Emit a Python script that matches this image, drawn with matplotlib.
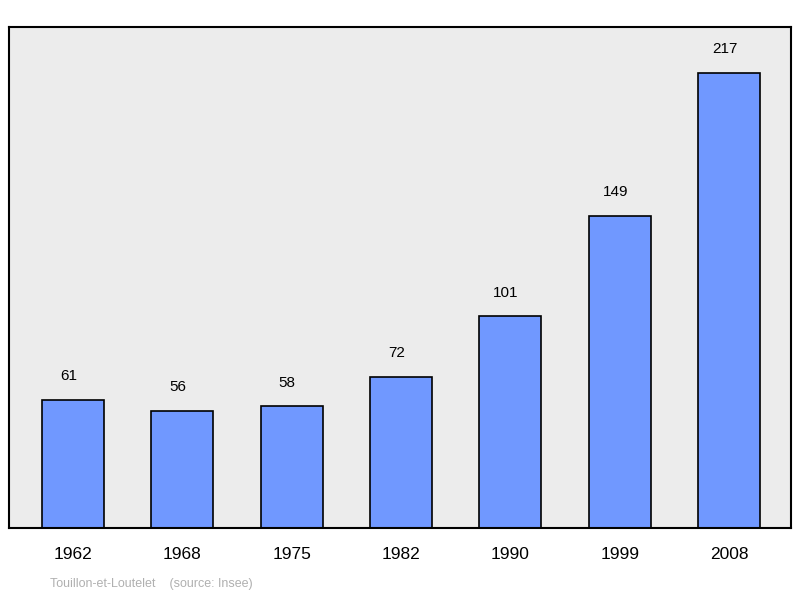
import matplotlib
matplotlib.use("Agg")
import matplotlib.pyplot as plt

years = ["1962", "1968", "1975", "1982", "1990", "1999", "2008"]
population = [61, 56, 58, 72, 101, 149, 217]

fig = plt.figure(figsize=(8, 5.98), dpi=100)
ax = fig.add_axes([9 / 800, 1 - 528 / 598, 782 / 800, 501 / 598])
ax.set_facecolor("#ececec")

pos = range(len(years))
ax.bar(pos, population, width=0.567, color="#7098ff", edgecolor="black", linewidth=1.2, zorder=2)
for x, v in zip(pos, population):
    ax.text(x - 0.04, v + 8, str(v), ha="center", va="bottom", fontsize=11, family="Liberation Sans")

ax.set_xlim(-0.585, 6.567)
ax.set_ylim(0, 239)
ax.set_yticks([])
ax.set_xticks(list(pos))
ax.set_xticklabels(years, fontsize=12.5, family="Liberation Sans")
ax.tick_params(axis="x", length=0, pad=14)
for s in ax.spines.values():
    s.set_linewidth(1.5)

fig.text(50 / 800, 1 - 584 / 598, "Touillon-et-Loutelet    (source: Insee)", fontsize=9,
         color="#b0b0b0", va="center", family="Liberation Sans")

fig.savefig("out.png", dpi=100)
